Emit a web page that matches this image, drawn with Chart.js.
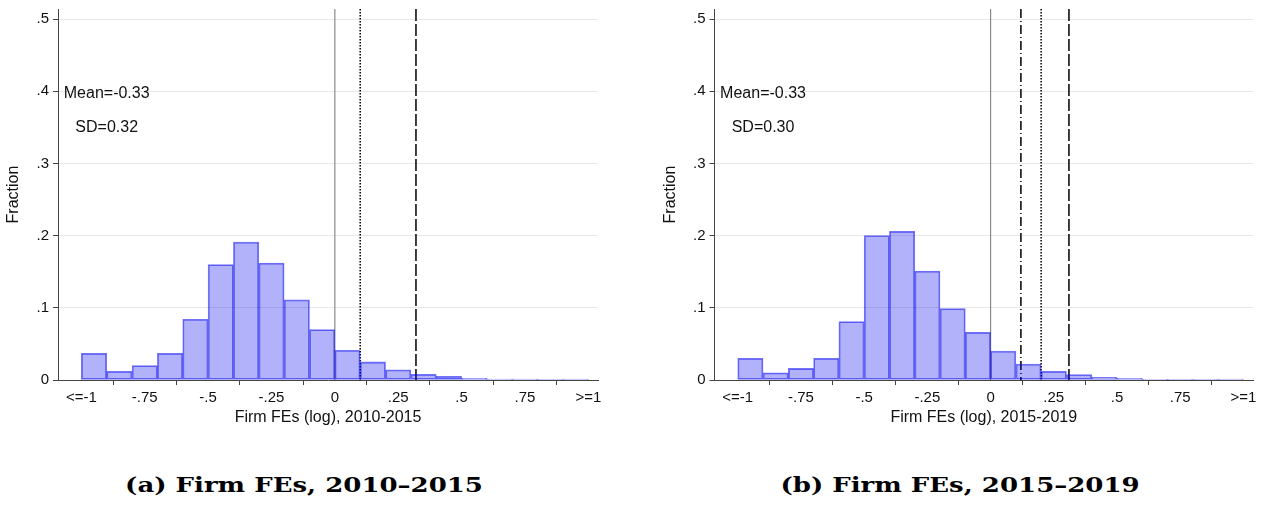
<!DOCTYPE html>
<html>
<head>
<meta charset="utf-8">
<script src="https://cdn.jsdelivr.net/npm/chart.js@4/dist/chart.umd.min.js"></script>
<style>
body { margin: 0; background: #fff; width: 1266px; height: 508px; position: relative; overflow: hidden; }
.box { position: absolute; top: 0; width: 633px; height: 430px; }
.cap { position: absolute; top: 475px; font-family: "DejaVu Serif", serif; font-weight: bold; font-size: 20px; line-height: 20px; white-space: nowrap; transform: translateX(-50%) scaleX(1.3); color: #000; }
</style>
</head>
<body>
<div class="box" style="left:0"><canvas id="chartA" width="633" height="430"></canvas></div>
<div class="box" style="left:633px"><canvas id="chartB" width="633" height="430"></canvas></div>
<div class="cap" style="left:304px">(a) Firm FEs, 2010–2015</div>
<div class="cap" style="left:960px">(b) Firm FEs, 2015–2019</div>
<script>
// bin midpoints (bins of width .1, end bins hold <=-1 / >=1)
const binMids = [-0.95, -0.85, -0.75, -0.65, -0.55, -0.45, -0.35, -0.25, -0.15, -0.05,
                 0.05, 0.15, 0.25, 0.35, 0.45, 0.55, 0.65, 0.75, 0.85, 0.95];

// fraction of firms per bin, 2010-2015
const fracA = [0.037, 0.012, 0.020, 0.037, 0.084, 0.160, 0.191, 0.162, 0.111, 0.070,
               0.041, 0.025, 0.014, 0.008, 0.005, 0.0023, 0.0014, 0.0014, 0.0006, 0.0014];
// fraction of firms per bin, 2015-2019
const fracB = [0.030, 0.010, 0.016, 0.030, 0.081, 0.200, 0.206, 0.151, 0.099, 0.066,
               0.040, 0.022, 0.012, 0.0074, 0.0037, 0.0023, 0.0011, 0.0006, 0.0006, 0.0014];

const yTicks = [0, 0.1, 0.2, 0.3, 0.4, 0.5];
const yTickLabels = ['0', '.1', '.2', '.3', '.4', '.5'];
const xTicks = [-1, -0.75, -0.5, -0.25, 0, 0.25, 0.5, 0.75, 1];
const xTickLabels = ['<=-1', '-.75', '-.5', '-.25', '0', '.25', '.5', '.75', '>=1'];

// vertical reference lines
const refA = [0, 0.10, 0.32];
const refKindsA = ['solid', 'dot', 'dash'];
const refB = [0, 0.12, 0.20, 0.31];
const refKindsB = ['solid', 'dashdot', 'dot', 'dash'];

const statsA = ['Mean=-0.33', 'SD=0.32'];
const statsB = ['Mean=-0.33', 'SD=0.30'];

const FONT = '"Liberation Sans", Arial, Helvetica, sans-serif';
const INK = '#111';
const AXIS = '#444';

const lineStyles = {
    solid:   { color: '#8a8a8a', width: 1.2, dash: [] },
    dot:     { color: '#000', width: 1.5, dash: [1.5, 1.5] },
    dash:    { color: '#000', width: 1.5, dash: [12, 3] },
    dashdot: { color: '#000', width: 1.5, dash: [9, 3, 1, 3] }
};

const refLinesPlugin = {
    id: 'refLines',
    beforeDatasetsDraw(chart, args, opts) {
        const { ctx, chartArea, scales: { x, y } } = chart;
        ctx.save();
        opts.values.forEach((v, i) => {
            const st = lineStyles[opts.kinds[i]];
            const px = x.getPixelForValue(v);
            ctx.beginPath();
            ctx.strokeStyle = st.color;
            ctx.lineWidth = st.width;
            ctx.setLineDash(st.dash);
            ctx.moveTo(px, chartArea.top);
            ctx.lineTo(px, y.getPixelForValue(0));
            ctx.stroke();
        });
        ctx.restore();
    },
    afterDatasetsDraw(chart, args, opts) {
        const { ctx, scales: { x, y } } = chart;
        ctx.save();
        ctx.font = '16px ' + FONT;
        ctx.fillStyle = INK;
        ctx.textAlign = 'center';
        ctx.textBaseline = 'middle';
        // stats text sits at x=-.9, y=.4 and .35
        ctx.fillText(opts.stats[0], x.getPixelForValue(-0.9), y.getPixelForValue(0.397));
        ctx.fillText(opts.stats[1], x.getPixelForValue(-0.9), y.getPixelForValue(0.349));
        ctx.restore();
    }
};

function makeChart(id, values, refVals, refKinds, stats, title, padLeft, padRight) {
    return new Chart(document.getElementById(id), {
        type: 'bar',
        data: {
            datasets: [{
                data: binMids.map((m, i) => ({ x: m, y: values[i] })),
                backgroundColor: 'rgba(0,0,240,0.3)',
                borderColor: 'rgba(0,0,240,0.55)',
                borderWidth: 1.1,
                borderSkipped: false,
                barPercentage: 1,
                categoryPercentage: 1,
                grouped: false
            }]
        },
        options: {
            responsive: false,
            animation: false,
            layout: { padding: { top: 9, right: padRight, left: padLeft, bottom: 0 } },
            plugins: {
                legend: { display: false },
                tooltip: { enabled: false },
                refLines: { values: refVals, kinds: refKinds, stats: stats }
            },
            scales: {
                x: {
                    type: 'linear',
                    min: -1.092,
                    max: 1.038,
                    offset: false,
                    afterBuildTicks: s => { s.ticks = xTicks.map(v => ({ value: v })); },
                    afterFit: s => { s.height = 50; s.paddingLeft = 0; s.paddingRight = 0; },
                    ticks: {
                        autoSkip: false,
                        maxRotation: 0,
                        padding: 4,
                        color: INK,
                        font: { size: 15, family: FONT },
                        callback: (v, i) => xTickLabels[i]
                    },
                    grid: { drawOnChartArea: false, tickLength: 5, tickColor: AXIS, lineWidth: 1 },
                    border: { color: AXIS, width: 1 },
                    title: {
                        display: true,
                        text: title,
                        color: INK,
                        font: { size: 16, family: FONT },
                        padding: { top: 0, bottom: 3 }
                    }
                },
                y: {
                    min: 0,
                    max: 0.5139,
                    afterBuildTicks: s => { s.ticks = yTicks.map(v => ({ value: v })); },
                    afterFit: s => { s.width = 58; s.paddingTop = 0; s.paddingBottom = 0; },
                    ticks: {
                        padding: 4,
                        color: INK,
                        font: { size: 15, family: FONT },
                        callback: (v, i) => yTickLabels[i]
                    },
                    grid: {
                        color: c => (c.tick && c.tick.value === 0) ? 'rgba(0,0,0,0)' : '#e8e8e8',
                        tickColor: AXIS,
                        tickLength: 5,
                        lineWidth: 1
                    },
                    border: { color: AXIS, width: 1 },
                    title: {
                        display: true,
                        text: 'Fraction',
                        color: INK,
                        font: { size: 16, family: FONT },
                        padding: { top: 4, bottom: 0 }
                    }
                }
            }
        },
        plugins: [refLinesPlugin]
    });
}

makeChart('chartA', fracA, refA, refKindsA, statsA, 'Firm FEs (log), 2010-2015', 0, 35);
makeChart('chartB', fracB, refB, refKindsB, statsB, 'Firm FEs (log), 2015-2019', 23.5, 13);
</script>
</body>
</html>
